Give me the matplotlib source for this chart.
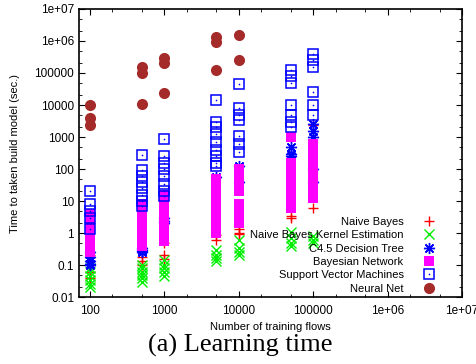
import numpy as np
import matplotlib
matplotlib.use("Agg")
import matplotlib.pyplot as plt
from matplotlib.ticker import FixedLocator, LogLocator, NullFormatter
from matplotlib.legend_handler import HandlerTuple

plt.rcParams["font.family"] = ["Liberation Sans", "DejaVu Sans"]
plt.rcParams["font.size"] = 8

# number of training flows (x positions of the columns)
flows = [100, 500, 1000, 5000, 10000, 50000, 100000]

# build times (sec.) per algorithm, one list per flow count
naive_bayes = [[0.2, 0.1, 0.06, 0.04], [0.18, 0.13, 0.1], [0.5, 0.2, 0.15],
               [0.85, 0.6], [1.3, 1.0, 0.9], [3.5, 3.0], [2300, 6]]
nb_kernel = [[0.08, 0.06, 0.045, 0.035, 0.025, 0.02],
             [0.1, 0.08, 0.06, 0.05, 0.04, 0.03],
             [0.14, 0.1, 0.08, 0.06, 0.045],
             [0.3, 0.2, 0.16, 0.13], [0.6, 0.35, 0.25, 0.2],
             [1.1, 0.7, 0.5, 0.4], [0.8, 0.6, 0.5]]
c45_tree = [[0.25, 0.18, 0.13, 0.11, 0.1], [0.35, 0.3, 0.28, 0.25],
            [3, 2.3, 2], [55], [120, 40], [500, 300, 250],
            [2500, 1500, 1000, 100, 40]]
bayes_net = [[4, 3, 2, 1.3, 1, 0.8, 0.6, 0.5, 0.4, 0.3, 0.25],
             [8, 6, 5, 3, 2, 1.5, 1, 0.8, 0.6, 0.4],
             [15, 10, 6, 4, 3, 2, 1.5, 1, 0.7, 0.55],
             [50, 30, 18, 12, 8, 5, 3.5, 2.5, 1.8, 1.3, 1],
             [100, 60, 30, 20, 8, 5, 3, 2],
             [1000, 150, 100, 60, 40, 25, 15, 10, 6],
             [600, 400, 250, 150, 100, 60, 35, 20, 12]]
svm = [[21, 8, 5, 3, 1.3],
       [280, 90, 60, 40, 25, 15, 10, 7],
       [850, 250, 150, 100, 60, 35, 20, 14],
       [14000, 3000, 2000, 1200, 700, 400, 250, 150, 120],
       [45000, 8000, 5000, 3500, 1100, 600, 350],
       [120000, 80000, 50000, 10000, 5000, 3000, 2000],
       [400000, 250000, 150000, 25000, 10000, 5000]]
neural_net = [[10000, 4000, 2300], [150000, 100000, 11000],
              [300000, 200000, 23000], [1300000, 900000, 120000],
              [1500000, 250000], [], []]

y_ticks = [0.01, 0.1, 1, 10, 100, 1000, 10000, 100000, 1e6, 1e7]
y_labels = ["0.01", "0.1", "1", "10", "100", "1000", "10000", "100000", "1e+06", "1e+07"]
x_ticks = [100, 1000, 10000, 100000, 1e6, 1e7]
x_labels = ["100", "1000", "10000", "100000", "1e+06", "1e+07"]


def flatten(groups):
    xs, ys = [], []
    for f, vals in zip(flows, groups):
        xs += [f] * len(vals)
        ys += vals
    return np.array(xs, dtype=float), np.array(ys, dtype=float)


fig = plt.figure(figsize=(4.77, 3.64), dpi=100)
ax = fig.add_axes([0.1656, 0.184, 0.803, 0.7913])

h_nb, = ax.plot(*flatten(naive_bayes), ls="none", marker="+", ms=7.5, mew=1,
                color="#ff0000")
h_nbk, = ax.plot(*flatten(nb_kernel), ls="none", marker="x", ms=6.5, mew=1,
                 color="#00ee00")
h_c45, = ax.plot(*flatten(c45_tree), ls="none", marker=(8, 2, 0), ms=8, mew=1,
                 color="#0000ff")
h_bn, = ax.plot(*flatten(bayes_net), ls="none", marker="s", ms=7.5, mew=0,
                color="#ff00ff")
h_svm, = ax.plot(*flatten(svm), ls="none", marker="s", ms=7.5, mew=1.1,
                 mfc="none", mec="#0000ff")
h_svm_dot, = ax.plot(*flatten(svm), ls="none", marker="o", ms=1.2, mew=0,
                     color="#0000ff")
h_nn, = ax.plot(*flatten(neural_net), ls="none", marker="o", ms=8, mew=0,
                color="#a52a2a")

ax.set_xscale("log")
ax.set_yscale("log")
ax.set_xlim(71, 1e7)
ax.set_ylim(0.01, 1e7)

ax.xaxis.set_major_locator(FixedLocator(x_ticks))
ax.set_xticklabels(x_labels)
ax.yaxis.set_major_locator(FixedLocator(y_ticks))
ax.set_yticklabels(y_labels)
ax.xaxis.set_minor_locator(LogLocator(base=10, subs=(2, 5)))
ax.yaxis.set_minor_locator(LogLocator(base=10, subs=(2, 5)))
ax.xaxis.set_minor_formatter(NullFormatter())
ax.yaxis.set_minor_formatter(NullFormatter())
ax.tick_params(which="both", direction="in", top=True, right=True, labelsize=8.5)
ax.tick_params(which="major", length=4, width=0.8)
ax.tick_params(which="minor", length=2, width=0.6)
ax.tick_params(axis="x", pad=6)
for sp in ax.spines.values():
    sp.set_linewidth(1.2)

ax.set_xlabel("Number of training flows", fontsize=8, labelpad=3)
ax.set_ylabel("Time to taken build model (sec.)", fontsize=8, labelpad=10)

handles = [h_nb, h_nbk, h_c45, h_bn, (h_svm, h_svm_dot), h_nn]
labels = ["Naive Bayes", "Naive Bayes Kernel Estimation", "C4.5 Decision Tree",
          "Bayesian Network", "Support Vector Machines", "Neural Net"]
ax.legend(handles, labels, loc="lower right", bbox_to_anchor=(0.943, 0.012),
          frameon=False, markerfirst=False, handlelength=2.0,
          handletextpad=1.3, labelspacing=0.3, borderpad=0,
          borderaxespad=0, fontsize=8,
          handler_map={tuple: HandlerTuple(ndivide=1, pad=0)})

fig.text(0.503, 0.033, "(a) Learning time", ha="center", va="baseline",
         fontsize=19, family="Liberation Serif")

fig.savefig("out.png", dpi=100)
